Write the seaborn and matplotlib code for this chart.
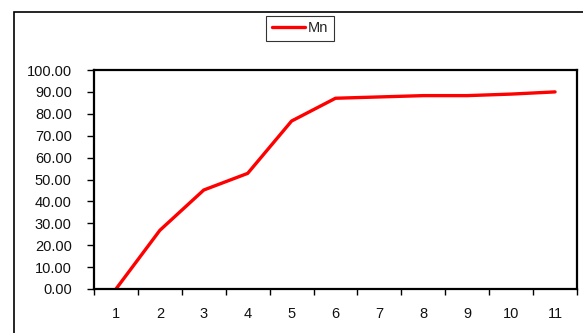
import matplotlib
matplotlib.use("Agg")
import matplotlib.pyplot as plt
from matplotlib.patches import Rectangle
from matplotlib.ticker import FixedLocator, NullFormatter, FixedFormatter
import seaborn as sns
import pandas as pd

# Series data
steps = [1, 2, 3, 4, 5, 6, 7, 8, 9, 10, 11]
mn_values = [0.0, 26.8, 45.2, 52.8, 76.7, 87.1, 87.7, 88.3, 88.3, 89.0, 90.0]
y_ticks = [0, 10, 20, 30, 40, 50, 60, 70, 80, 90, 100]

sns.set_theme(style="white")
plt.rcParams["font.family"] = ["Liberation Sans", "DejaVu Sans"]

df = pd.DataFrame({"step": steps, "Mn": mn_values})

fig = plt.figure(figsize=(5.83, 3.33), dpi=100)
ax = fig.add_axes([94 / 583, 1 - 289 / 333, (577 - 94) / 583, (289 - 70) / 333])

sns.lineplot(data=df, x="step", y="Mn", ax=ax, color="#ff0000", linewidth=2.4,
             label="Mn", legend=False)

ax.set_xlim(0.5, len(steps) + 0.5)
ax.set_ylim(0, 100)

# Category axis: ticks sit between categories, labels at the centres
ax.xaxis.set_major_locator(FixedLocator([s - 0.5 for s in steps] + [steps[-1] + 0.5]))
ax.xaxis.set_major_formatter(NullFormatter())
ax.xaxis.set_minor_locator(FixedLocator(steps))
ax.xaxis.set_minor_formatter(FixedFormatter([str(s) for s in steps]))
ax.tick_params(axis="x", which="major", direction="out", length=4, width=1, color="black", bottom=True)
ax.tick_params(axis="x", which="minor", length=0, pad=13, labelsize=10.5, labelcolor="#111111", bottom=True)

ax.set_yticks(y_ticks)
ax.set_yticklabels([f"{v:.2f}" for v in y_ticks])
ax.tick_params(axis="y", direction="out", length=5, width=1, color="black", left=True,
               labelsize=10.5, labelcolor="#111111", pad=11)

ax.set_xlabel("")
ax.set_ylabel("")
for sp in ax.spines.values():
    sp.set_visible(True)
    sp.set_color("black")
    sp.set_linewidth(1.6)

# Outer chart border
fig.patches.append(Rectangle((14 / 583, -0.2), 1.2, 1.2 - 12 / 333, transform=fig.transFigure,
                             fill=False, edgecolor="black", linewidth=1.2))

handles, labels = ax.get_lines(), ["Mn"]
leg = fig.legend(handles[:1], labels, loc="center", bbox_to_anchor=(300 / 583, 1 - 28.5 / 333),
                 frameon=True, fancybox=False, edgecolor="black", fontsize=10.5,
                 handlelength=2.3, handletextpad=0.2, borderpad=0.4, borderaxespad=0)
leg.get_frame().set_linewidth(0.8)

fig.savefig("out.png", dpi=100)
